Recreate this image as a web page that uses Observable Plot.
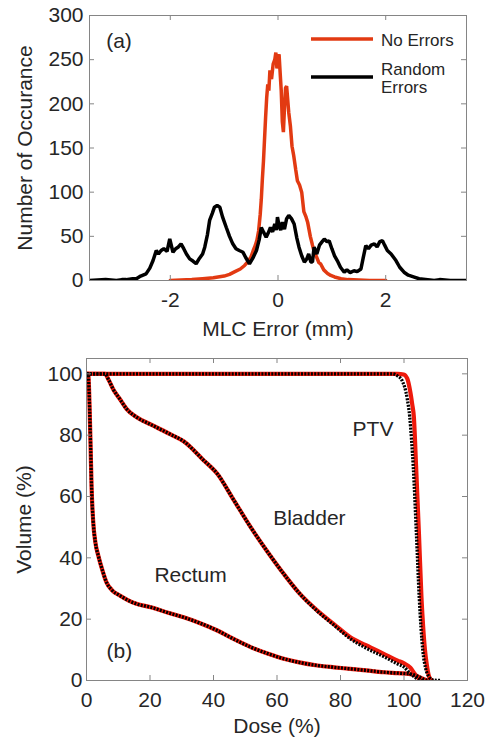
<!DOCTYPE html>
<html><head><meta charset="utf-8">
<script src="https://cdn.jsdelivr.net/npm/d3@7"></script>
<script src="https://cdn.jsdelivr.net/npm/@observablehq/plot@0.6"></script>
<style>
body{margin:0;background:#fff;font-family:"Liberation Sans",Arial,sans-serif;}
.panel{position:relative;width:486px;}
.panel svg{display:block}
.legend{position:absolute;left:0;top:0;pointer-events:none}
</style></head><body>
<div id="pa" class="panel"></div>
<div id="pb" class="panel"></div>
<script>
// ---------- Panel (a): MLC error histograms ----------
const noErrorsMLC = [-2.0,-1.8,-1.6,-1.4,-1.2,-1.0,-0.9,-0.8,-0.7,-0.62,-0.55,-0.5,-0.46,-0.42,-0.39,-0.36,-0.33,-0.31,-0.29,-0.27,-0.25,-0.23,-0.21,-0.19,-0.17,-0.15,-0.12,-0.09,-0.06,-0.04,-0.02,0,0.02,0.04,0.06,0.08,0.1,0.12,0.14,0.16,0.18,0.2,0.23,0.26,0.29,0.33,0.36,0.4,0.44,0.48,0.52,0.55,0.6,0.64,0.67,0.72,0.76,0.79,0.85,0.92,0.98,1.05,1.17,1.3,1.5,1.7,2.0];
const noErrorsCount = [0,0.5,1,2,3,5,7,10,13,17,22,27,34,40,46,56,75,92,115,135,160,185,207,222,215,238,228,245,250,258,240,252,256,235,215,180,168,195,218,220,205,190,175,152,142,125,113,108,100,78,72,66,50,40,33,26,20,19,12,8,5.7,4,2,1,0.5,0,0];

const randomErrorsMLC = [-3.5,-3.2,-3.0,-2.9,-2.82,-2.7,-2.63,-2.55,-2.45,-2.38,-2.32,-2.26,-2.22,-2.17,-2.12,-2.06,-2.01,-1.95,-1.9,-1.85,-1.8,-1.75,-1.7,-1.64,-1.58,-1.52,-1.46,-1.4,-1.36,-1.31,-1.27,-1.22,-1.18,-1.13,-1.08,-1.03,-0.96,-0.9,-0.84,-0.78,-0.72,-0.65,-0.6,-0.53,-0.47,-0.4,-0.35,-0.31,-0.27,-0.22,-0.18,-0.14,-0.1,-0.06,-0.03,-0.01,0.02,0.05,0.08,0.12,0.16,0.2,0.25,0.3,0.35,0.39,0.44,0.49,0.53,0.57,0.61,0.64,0.67,0.72,0.77,0.82,0.86,0.91,0.95,1.0,1.05,1.1,1.16,1.23,1.28,1.34,1.41,1.47,1.54,1.58,1.63,1.68,1.73,1.79,1.84,1.89,1.94,1.98,2.03,2.1,2.19,2.26,2.34,2.42,2.53,2.62,2.7,2.78,2.9,3.0,3.2,3.5];
const randomErrorsCount = [0,1,0,1,1,2,2,5,7.5,14,22.6,34,30,34,36,33,47,32,36,38,41.5,36,30,24.5,22,19,25,30,37.7,52,68,76,83,85,83,72,60,50,41.5,36,34,32,26,19,25,34,46,60,55,49,54,60,55,64,57,71.7,62,57,66,58,70,73.6,70,64,48,37.7,28,20.8,24,30,21,20.8,37.7,30,40,44,47,44,45,36,28,22.6,15,9.4,12,9,11,10,13,25,39.6,36,40,41.5,38,44,45,40,34,30,22.6,15,9.4,6,3.8,2,1.5,1,0,1,0,0];

const xTicksA = [-2, 0, 2];
const yTicksA = [0, 50, 100, 150, 200, 250, 300];
const seriesNames = ["No Errors", "Random Errors"];
const legendLinesA = [["No Errors"], ["Random", "Errors"]];
const panelTagA = [{x: -3.19, y: 271, text: "(a)"}];

// ---------- Panel (b): DVH curves ----------
const ptvDoseNoErr = [0,98,99.9,101,102,102.6,103.1,103.8,104.7,105.5,106,106.6,107.2,107.8,108.3,108.8];
const ptvVolNoErr  = [100,100,99.8,98.5,94,90,86,70,48,27,18,10,5,1.6,0.5,0];
const ptvDoseRand  = [0,96.3,98,99.4,101,101.8,102.4,102.9,103.9,104.8,105.9,106.8,107.8,108.5,109.5,111.5];
const ptvVolRand   = [100,100,99.3,97.8,92,86,78,70,48,27,10,4,1.3,0.4,0.1,0];

const bladderDose   = [0,5.8,7,8.4,10.5,12.6,15.7,20.2,26.2,30.6,36.7,41.2,46,51.7,57,62.1,67,72.7,78,83.1,88,93.6,98,100,102,103.5,104.5,105.5];
const bladderNoErr  = [100,100,98,95,91.8,88.6,85.9,83.5,80.4,78,72,67.4,59.5,50,42,34.8,28.5,22.8,18.3,14.1,11.5,8.7,6.5,5.6,4.2,2,0.8,0];
const bladderRand   = [100,100,98,95,91.8,88.6,85.9,83.5,80.4,78,72,67.4,59.5,50,42,34.8,28.5,22.6,18,13.6,10.6,7.8,5.4,4.4,2.2,1.0,0.3,0];

const rectumDose    = [0,0.5,0.8,1.0,1.3,1.6,2.1,2.8,3.7,5,6.3,8,10.5,13,15.7,20.2,26,30.6,36,41.2,46,51.7,57,62.1,67,72.7,78,83.1,88,93.6,98,102,104,105.5,106.5,107.5];
const rectumNoErr   = [100,100,95,88,76,63,52,45,40.8,36,32,29.5,27.7,26.2,25,23.9,22,20.6,18.6,16.3,13.7,10.9,8.8,7.1,5.9,4.9,4.3,3.8,3.3,2.7,2.4,2.1,1.5,0.8,0.3,0];
const rectumRand    = [100,100,95,88,76,63,52,45,40.8,36,32,29.5,27.7,26.2,25,23.9,22,20.6,18.6,16.3,13.7,10.9,8.8,7.1,5.9,4.9,4.3,3.8,3.3,2.7,2.4,2.1,1.5,0.8,0.3,0];

const xTicksB = [0, 20, 40, 60, 80, 100, 120];
const yTicksB = [0, 20, 40, 60, 80, 100];
const organLabels = [
  {x: 83.8, y: 81.8, text: "PTV"},
  {x: 58.8, y: 52.8, text: "Bladder"},
  {x: 21.4, y: 34.4, text: "Rectum"},
  {x: 6.3,  y: 9.5,  text: "(b)"}
];

// ---------- build tables ----------
const histA = noErrorsMLC.map((e, i) => ({e, n: noErrorsCount[i], s: seriesNames[0]}));
const histB = randomErrorsMLC.map((e, i) => ({e, n: randomErrorsCount[i], s: seriesNames[1]}));
const zipC = (xs, ys, organ) => xs.map((d, i) => ({d, v: ys[i], organ}));
const dvhNoErr = [
  ...zipC(ptvDoseNoErr, ptvVolNoErr, "PTV"),
  ...zipC(bladderDose, bladderNoErr, "Bladder"),
  ...zipC(rectumDose, rectumNoErr, "Rectum")
];
const dvhRand = [
  ...zipC(ptvDoseRand, ptvVolRand, "PTV"),
  ...zipC(bladderDose, bladderRand, "Bladder"),
  ...zipC(rectumDose, rectumRand, "Rectum")
];

const FONT = '"Liberation Sans", Arial, Helvetica, sans-serif';
const GRAY = "#858585";
const TXT = "#262626";
const RED_A = "#e23a12";
const RED_B = "#ee1a0c";
const FS = 21;

function inwardTicks(xt, yt, innerW, innerH) {
  return [
    Plot.tickX(xt, {x: d => d, insetTop: innerH - 5, stroke: GRAY}),
    Plot.tickX(xt, {x: d => d, insetBottom: innerH - 5, stroke: GRAY}),
    Plot.tickY(yt, {y: d => d, insetRight: innerW - 5, stroke: GRAY}),
    Plot.tickY(yt, {y: d => d, insetLeft: innerW - 5, stroke: GRAY})
  ];
}

// Panel (a)
const WA = 486, HA = 340, mA = {l: 89, r: 20, t: 15, b: 60};
const plotA = Plot.plot({
  width: WA, height: HA,
  marginLeft: mA.l, marginRight: mA.r, marginTop: mA.t, marginBottom: mA.b,
  style: {fontFamily: FONT, fontSize: FS + "px", color: TXT, background: "white"},
  x: {domain: [-3.5, 3.5]},
  y: {domain: [0, 300]},
  marks: [
    Plot.line(histA, {x: "e", y: "n", stroke: RED_A, strokeWidth: 3.5, strokeLinejoin: "miter", clip: true}),
    Plot.line(histB, {x: "e", y: "n", stroke: "#000", strokeWidth: 3.5, strokeLinejoin: "miter", clip: true}),
    Plot.frame({stroke: GRAY}),
    ...inwardTicks(xTicksA, yTicksA, WA - mA.l - mA.r, HA - mA.t - mA.b),
    Plot.axisX(xTicksA, {tickSize: 0, tickPadding: 12, fontSize: FS, tickFormat: d => String(d),
      label: "MLC Error (mm)", labelAnchor: "center", labelOffset: 55, labelArrow: "none"}),
    Plot.axisY(yTicksA, {tickSize: 0, tickPadding: 6, fontSize: FS, tickFormat: d => String(d),
      label: "Number of Occurance", labelAnchor: "center", labelOffset: 72, labelArrow: "none"}),
    Plot.text(panelTagA, {x: "x", y: "y", text: "text", textAnchor: "start", fontSize: 21, fill: TXT})
  ]
});
document.getElementById("pa").appendChild(plotA);

// legend for panel (a)
const leg = d3.select("#pa").append("svg").attr("class", "legend")
  .attr("width", WA).attr("height", HA);
const legColors = [RED_A, "#000"];
const legRowY = [39, 77];
legendLinesA.forEach((lines, i) => {
  leg.append("line").attr("x1", 311).attr("x2", 373).attr("y1", legRowY[i]).attr("y2", legRowY[i])
    .attr("stroke", legColors[i]).attr("stroke-width", 3.5);
  const t = leg.append("text").attr("x", 381).attr("font-family", FONT).attr("font-size", 17).attr("fill", TXT);
  const startY = lines.length === 1 ? legRowY[i] + 7 : legRowY[i] - 2;
  lines.forEach((ln, j) => t.append("tspan").attr("x", 381).attr("y", startY + j * 18.3).text(ln));
});

// Panel (b)
const WB = 486, HB = 398, mB = {l: 86, r: 19, t: 18, b: 58};
const plotB = Plot.plot({
  width: WB, height: HB,
  marginLeft: mB.l, marginRight: mB.r, marginTop: mB.t, marginBottom: mB.b,
  style: {fontFamily: FONT, fontSize: FS + "px", color: TXT, background: "white"},
  x: {domain: [0, 120]},
  y: {domain: [0, 105]},
  marks: [
    Plot.line(dvhNoErr, {x: "d", y: "v", z: "organ", curve: "monotone-x", stroke: RED_B, strokeWidth: 4.2, clip: true}),
    Plot.line(dvhRand, {x: "d", y: "v", z: "organ", curve: "monotone-x", stroke: "#000", strokeWidth: 3.3, strokeDasharray: "2,1.3", strokeLinecap: "butt", clip: true}),
    Plot.frame({stroke: GRAY}),
    ...inwardTicks(xTicksB, yTicksB, WB - mB.l - mB.r, HB - mB.t - mB.b),
    Plot.axisX(xTicksB, {tickSize: 0, tickPadding: 12, fontSize: FS, tickFormat: d => String(d),
      label: "Dose (%)", labelAnchor: "center", labelOffset: 52, labelArrow: "none"}),
    Plot.axisY(yTicksB, {tickSize: 0, tickPadding: 4, fontSize: FS, tickFormat: d => String(d),
      label: "Volume (%)", labelAnchor: "center", labelOffset: 70, labelArrow: "none"}),
    Plot.text(organLabels, {x: "x", y: "y", text: "text", textAnchor: "start", fontSize: 21, fill: TXT})
  ]
});
document.getElementById("pb").appendChild(plotB);
</script>
</body></html>
